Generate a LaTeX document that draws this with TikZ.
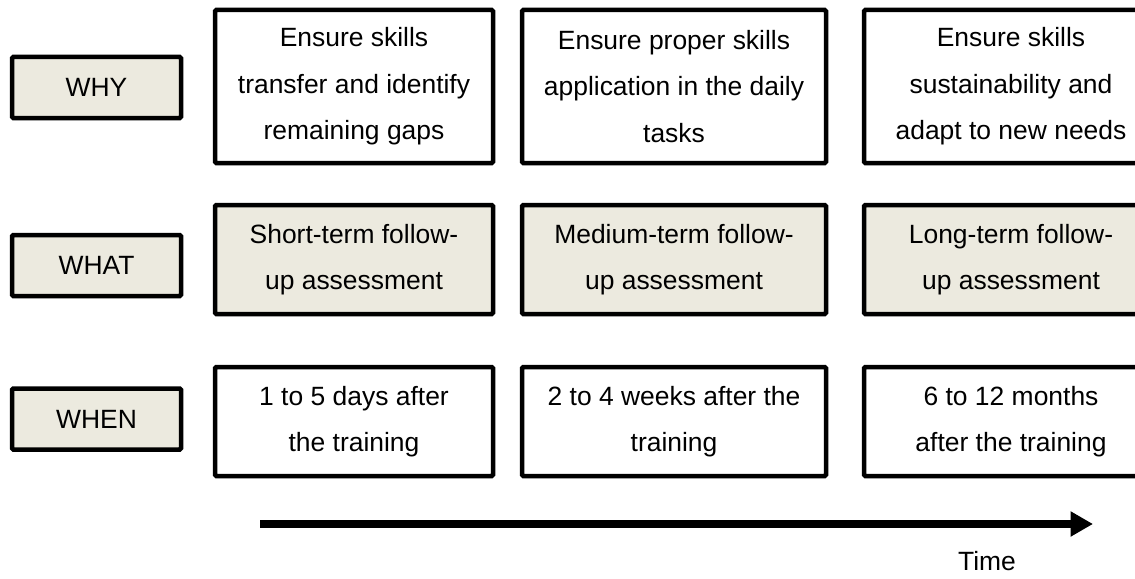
\documentclass[tikz,border=0pt]{standalone}
\usepackage{fontspec}
\setmainfont{Liberation Sans}
\usetikzlibrary{arrows.meta,shadows}
\definecolor{paper}{HTML}{ECEADF}
\def\px{0.025cm}
\def\colA{354}
\def\colB{674}
\def\colC{1011}
\def\rowA{86.5}
\def\rowB{259.5}
\def\rowC{421.5}

\begin{document}
\begin{tikzpicture}[x=\px, y=-\px,
    every node/.style={font=\fontsize{18.8}{33}\selectfont},
    shade/.style={drop shadow={shadow xshift=1pt, shadow yshift=-1.5pt, opacity=0.25}},
    tag/.style={draw, line width=3.2pt, rounded corners=1pt, fill=paper, shade,
        minimum width=169*\px, minimum height=61*\px, inner sep=0pt},
    cell/.style={draw, line width=3.2pt, rounded corners=1pt, fill=white, shade,
        align=center, inner sep=0pt, minimum height=109*\px},
    tall/.style={cell, minimum height=153*\px},
    tinted/.style={cell, fill=paper}]
    \useasboundingbox (0,0) rectangle (1135,578);

    % Row labels.
    \node[tag] (why) at (96.5, 87.5) {WHY};
    \node[tag] (what) at (96.5, 265.5) {WHAT};
    \node[tag] (when) at (96.5, 419) {WHEN};

    % WHY row.
    \node[tall, minimum width=278*\px] (why1) at (\colA, \rowA) {Ensure skills\\transfer and identify\\remaining gaps};
    \node[tall, minimum width=304*\px] (why2) at (\colB, \rowA) {Ensure proper skills\\application in the daily\\tasks};
    \node[tall, minimum width=294*\px] (why3) at (\colC, \rowA) {Ensure skills\\sustainability and\\adapt to new needs};

    % WHAT row.
    \node[tinted, minimum width=278*\px] (what1) at (\colA, \rowB) {Short-term follow-\\up assessment};
    \node[tinted, minimum width=304*\px] (what2) at (\colB, \rowB) {Medium-term follow-\\up assessment};
    \node[tinted, minimum width=294*\px] (what3) at (\colC, \rowB) {Long-term follow-\\up assessment};

    % WHEN row.
    \node[cell, minimum width=278*\px] (when1) at (\colA, \rowC) {1 to 5 days after\\the training};
    \node[cell, minimum width=304*\px] (when2) at (\colB, \rowC) {2 to 4 weeks after the\\training};
    \node[cell, minimum width=294*\px] (when3) at (\colC, \rowC) {6 to 12 months\\after the training};

    % Time axis.
    \coordinate (tstart) at (260, 524);
    \coordinate (tend) at (1093, 524);
    \draw[line width=5.7pt, shade, -{Triangle[length=16pt, width=17pt]}] (tstart) -- (tend);
    \node (time) at (987, 561) {Time};
\end{tikzpicture}
\end{document}
